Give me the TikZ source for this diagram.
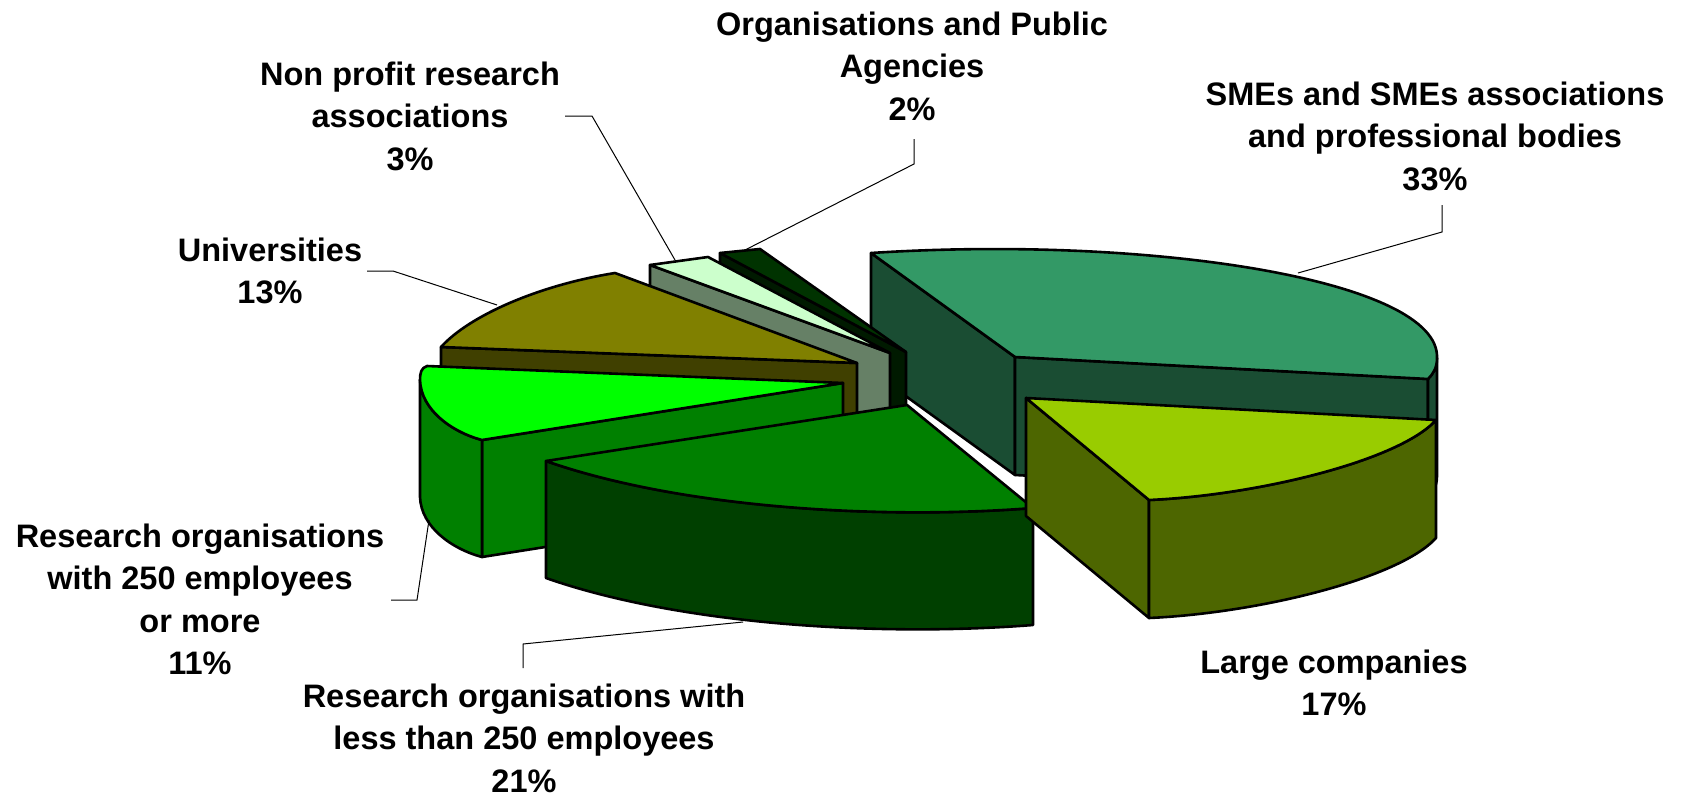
\documentclass[tikz,border=0pt]{standalone}
\usepackage{fontspec}
\setmainfont{Liberation Sans}
\begin{document}
\begin{tikzpicture}[x=1pt,y=-1pt,
  slice/.style={draw=black,line width=2.6pt,line join=round},
  leader/.style={draw=black,line width=1pt},
  lbl/.style={font=\fontsize{32.5}{42.5}\selectfont\bfseries,align=center,inner sep=0pt,anchor=north}]
\definecolor{smetop}{HTML}{339966}\definecolor{smeside}{HTML}{1A4D33}
\definecolor{lctop}{HTML}{99CC00}\definecolor{lcside}{HTML}{4D6600}
\definecolor{rltop}{HTML}{008000}\definecolor{rlside}{HTML}{004000}
\definecolor{rmtop}{HTML}{00FF00}\definecolor{rmside}{HTML}{008000}
\definecolor{untop}{HTML}{808000}\definecolor{unside}{HTML}{404000}
\definecolor{nptop}{HTML}{CCFFCC}\definecolor{npside}{HTML}{668066}
\definecolor{ogtop}{HTML}{003300}\definecolor{ogside}{HTML}{001A00}
\useasboundingbox[fill=white] (0,0) rectangle (1694,795);

% ---------- SMEs (33%)
\fill[smeside] (871,253) -- (1015,357) -- (1015,475) -- (871,371) -- cycle;
\draw[slice] (871,253) -- (1015,357) -- (1015,475) -- (871,371) -- cycle;
\draw[slice,fill=smeside] (1015,357) -- (1428,379) -- (1428,497) -- (1015,475) -- cycle;
\draw[slice,fill=smeside] (1437,358) .. controls (1437,368) and (1433,374) .. (1428,379) -- (1428,497) .. controls (1433,492) and (1437,486) .. (1437,476) -- cycle;
\draw[slice,fill=smetop] (871,253) .. controls (1150,235) and (1440,280) .. (1437,358) .. controls (1437,368) and (1433,374) .. (1428,379) -- (1015,357) -- cycle;

% ---------- Organisations and Public Agencies (2%)
\draw[slice,fill=ogside] (720,253) -- (906,352) -- (906,469) -- (720,370) -- cycle;
\draw[slice,fill=ogtop] (720,253) -- (760,249) -- (906,352) -- cycle;

% ---------- Non profit research associations (3%)
\draw[slice,fill=npside] (650,265) -- (890,353) -- (890,470) -- (650,382) -- cycle;
\draw[slice,fill=nptop] (650,265) -- (708,257) -- (890,353) -- cycle;

% ---------- Universities (13%)
\draw[slice,fill=unside] (441,347) -- (857,363) -- (857,480) -- (441,464) -- cycle;
\draw[slice,fill=untop] (441,347) .. controls (470,315) and (540,285) .. (615,273) -- (857,363) -- cycle;

% ---------- Research organisations with 250 employees or more (11%)
\draw[slice,fill=rmside] (482,440) -- (843,383) -- (843,500) -- (482,557) -- cycle;
\draw[slice,fill=rmside] (482,440) .. controls (452,432) and (421,410) .. (420,380) -- (420,497) .. controls (421,527) and (452,549) .. (482,557) -- cycle;
\draw[slice,fill=rmtop] (427,366) -- (843,383) -- (482,440) .. controls (452,432) and (421,410) .. (420,380) .. controls (420,373) and (421,368) .. (427,366) -- cycle;

% ---------- Research organisations with less than 250 employees (21%)
\draw[slice,fill=rlside] (546,461) .. controls (680,508) and (880,520) .. (1033,508) -- (1033,625) .. controls (880,637) and (680,625) .. (546,578) -- cycle;
\draw[slice,fill=rltop] (907,405) -- (546,461) .. controls (680,508) and (880,520) .. (1033,508) -- cycle;

% ---------- Large companies (17%)
\draw[slice,fill=lcside] (1026,398) -- (1149,500) -- (1149,618) -- (1026,516) -- cycle;
\draw[slice,fill=lcside] (1149,500) .. controls (1260,495) and (1400,460) .. (1436,420) -- (1436,538) .. controls (1400,578) and (1260,613) .. (1149,618) -- cycle;
\draw[slice,fill=lctop] (1026,398) -- (1436,420) .. controls (1400,460) and (1260,495) .. (1149,500) -- cycle;

% ---------- labels
\node[lbl] (ogl) at (912,11.7) {Organisations and Public\\Agencies\\2\%};
\node[lbl] (npl) at (410,61.7) {Non profit research\\associations\\3\%};
\node[lbl] (smel) at (1435,81.7) {SMEs and SMEs associations\\and professional bodies\\33\%};
\node[lbl] (unl) at (270,237.7) {Universities\\13\%};
\node[lbl] (rml) at (200,523.7) {Research organisations\\with 250 employees\\or more\\11\%};
\node[lbl] (rll) at (524,683.7) {Research organisations with\\less than 250 employees\\21\%};
\node[lbl] (lcl) at (1334,649.7) {Large companies\\17\%};

% ---------- leader lines
\coordinate (npa) at (565,116); \coordinate (npb) at (592,116); \coordinate (npc) at (675,260);
\coordinate (oga) at (914,139); \coordinate (ogb) at (914,164); \coordinate (ogc) at (745,250);
\coordinate (smea) at (1442,205); \coordinate (smeb) at (1442,232); \coordinate (smec) at (1298,273);
\coordinate (una) at (367,271); \coordinate (unb) at (393,271); \coordinate (unc) at (497,305);
\coordinate (rma) at (391,600); \coordinate (rmb) at (417,600); \coordinate (rmc) at (429,520);
\coordinate (rla) at (523,668); \coordinate (rlb) at (523,644); \coordinate (rlc) at (743,622);
\draw[leader] (npa) -- (npb) -- (npc);
\draw[leader] (oga) -- (ogb) -- (ogc);
\draw[leader] (smea) -- (smeb) -- (smec);
\draw[leader] (una) -- (unb) -- (unc);
\draw[leader] (rma) -- (rmb) -- (rmc);
\draw[leader] (rla) -- (rlb) -- (rlc);
\end{tikzpicture}
\end{document}
